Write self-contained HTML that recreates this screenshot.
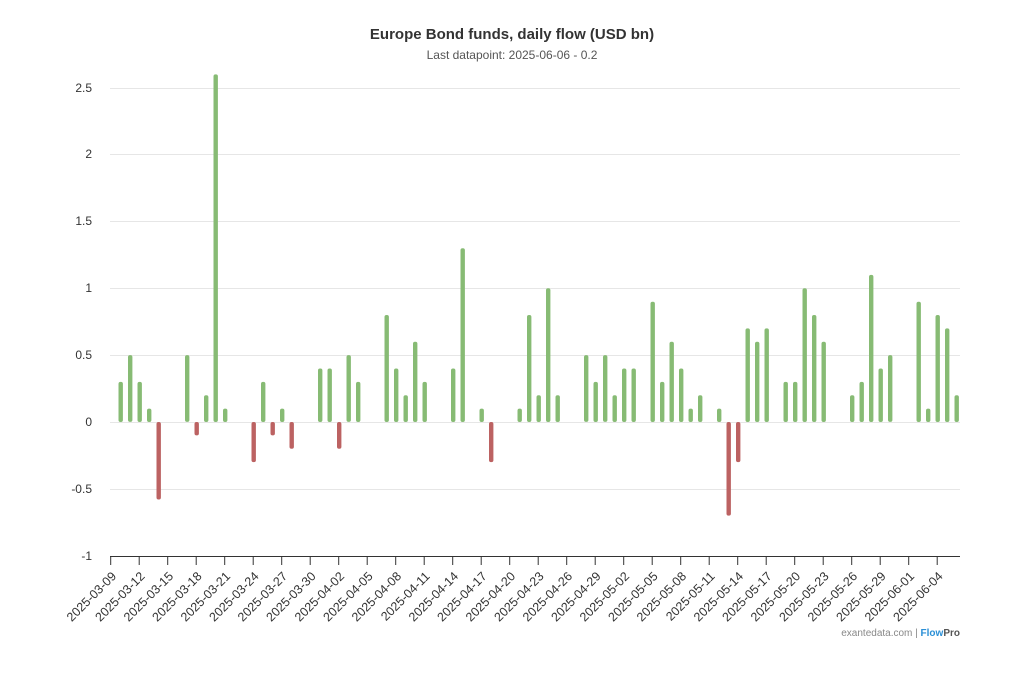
<!DOCTYPE html>
<html><head><meta charset="utf-8"><style>
body{margin:0;background:#fff;}
svg{display:block;font-family:"Liberation Sans",Arial,sans-serif;}
</style></head><body>
<svg id="c" width="1024" height="689" viewBox="0 0 1024 689">
<text x="512" y="39" text-anchor="middle" font-size="15" font-weight="bold" fill="#333">Europe Bond funds, daily flow (USD bn)</text>
<text x="512" y="59" text-anchor="middle" font-size="12" fill="#555">Last datapoint: 2025-06-06 - 0.2</text>
<g stroke="#e6e6e6" stroke-width="1">
<line x1="110" x2="960" y1="88.5" y2="88.5"/><line x1="110" x2="960" y1="154.5" y2="154.5"/>
<line x1="110" x2="960" y1="221.5" y2="221.5"/><line x1="110" x2="960" y1="288.5" y2="288.5"/>
<line x1="110" x2="960" y1="355.5" y2="355.5"/><line x1="110" x2="960" y1="422.5" y2="422.5"/>
<line x1="110" x2="960" y1="489.5" y2="489.5"/>
</g>
<g font-size="12" fill="#333" text-anchor="end">
<text x="92" y="92">2.5</text><text x="92" y="158">2</text><text x="92" y="225">1.5</text>
<text x="92" y="292">1</text><text x="92" y="359">0.5</text><text x="92" y="426">0</text>
<text x="92" y="493">-0.5</text><text x="92" y="560">-1</text>
</g>
<g id="bars"></g>
<line x1="110" x2="960" y1="556.5" y2="556.5" stroke="#333" stroke-width="1"/>
<g id="ticks" stroke="#333"></g>
<g font-size="12.5" fill="#333" text-anchor="end">
<text transform="translate(117,577) rotate(-45)">2025-03-09</text>
<text transform="translate(145.5,577) rotate(-45)">2025-03-12</text>
<text transform="translate(174,577) rotate(-45)">2025-03-15</text>
<text transform="translate(202.5,577) rotate(-45)">2025-03-18</text>
<text transform="translate(231,577) rotate(-45)">2025-03-21</text>
<text transform="translate(259.5,577) rotate(-45)">2025-03-24</text>
<text transform="translate(288,577) rotate(-45)">2025-03-27</text>
<text transform="translate(316.5,577) rotate(-45)">2025-03-30</text>
<text transform="translate(345,577) rotate(-45)">2025-04-02</text>
<text transform="translate(373.5,577) rotate(-45)">2025-04-05</text>
<text transform="translate(402,577) rotate(-45)">2025-04-08</text>
<text transform="translate(430.5,577) rotate(-45)">2025-04-11</text>
<text transform="translate(459,577) rotate(-45)">2025-04-14</text>
<text transform="translate(487.5,577) rotate(-45)">2025-04-17</text>
<text transform="translate(516,577) rotate(-45)">2025-04-20</text>
<text transform="translate(544.5,577) rotate(-45)">2025-04-23</text>
<text transform="translate(573,577) rotate(-45)">2025-04-26</text>
<text transform="translate(601.5,577) rotate(-45)">2025-04-29</text>
<text transform="translate(630,577) rotate(-45)">2025-05-02</text>
<text transform="translate(658.5,577) rotate(-45)">2025-05-05</text>
<text transform="translate(687,577) rotate(-45)">2025-05-08</text>
<text transform="translate(715.5,577) rotate(-45)">2025-05-11</text>
<text transform="translate(744,577) rotate(-45)">2025-05-14</text>
<text transform="translate(772.5,577) rotate(-45)">2025-05-17</text>
<text transform="translate(801,577) rotate(-45)">2025-05-20</text>
<text transform="translate(829.5,577) rotate(-45)">2025-05-23</text>
<text transform="translate(858,577) rotate(-45)">2025-05-26</text>
<text transform="translate(886.5,577) rotate(-45)">2025-05-29</text>
<text transform="translate(915,577) rotate(-45)">2025-06-01</text>
<text transform="translate(943.5,577) rotate(-45)">2025-06-04</text>
</g>
<text x="960" y="636" text-anchor="end" font-size="10" fill="#888">exantedata.com | <tspan fill="#2a8fd6" font-weight="bold">Flow</tspan><tspan fill="#555" font-weight="bold">Pro</tspan></text>
</svg>
<script>
var d=[[1,.3],[2,.5],[3,.3],[4,.1],[5,-.58],[8,.5],[9,-.1],[10,.2],[11,2.6],[12,.1],[15,-.3],[16,.3],[17,-.1],[18,.1],[19,-.2],[22,.4],[23,.4],[24,-.2],[25,.5],[26,.3],[29,.8],[30,.4],[31,.2],[32,.6],[33,.3],[36,.4],[37,1.3],[39,.1],[40,-.3],[43,.1],[44,.8],[45,.2],[46,1],[47,.2],[50,.5],[51,.3],[52,.5],[53,.2],[54,.4],[55,.4],[57,.9],[58,.3],[59,.6],[60,.4],[61,.1],[62,.2],[64,.1],[65,-.7],[66,-.3],[67,.7],[68,.6],[69,.7],[71,.3],[72,.3],[73,1],[74,.8],[75,.6],[78,.2],[79,.3],[80,1.1],[81,.4],[82,.5],[85,.9],[86,.1],[87,.8],[88,.7],[89,.2]];
var g=document.getElementById('bars'),s="";
d.forEach(function(p){var x=111.2+9.5*p[0],h=Math.abs(p[1])*133.7,y=p[1]>0?422-h:422;
s+='<rect x="'+(x-2.2).toFixed(1)+'" y="'+y.toFixed(1)+'" width="4.4" height="'+h.toFixed(1)+'" rx="2" fill="'+(p[1]>0?'#87bb74':'#bc6262')+'"/>';});
g.innerHTML=s;var t="";
for(var k=0;k<30;k++){var x=110.7+28.5*k;t+='<line x1="'+x+'" x2="'+x+'" y1="556" y2="565"/>';}
document.getElementById('ticks').innerHTML=t;
</script>
</body></html>
